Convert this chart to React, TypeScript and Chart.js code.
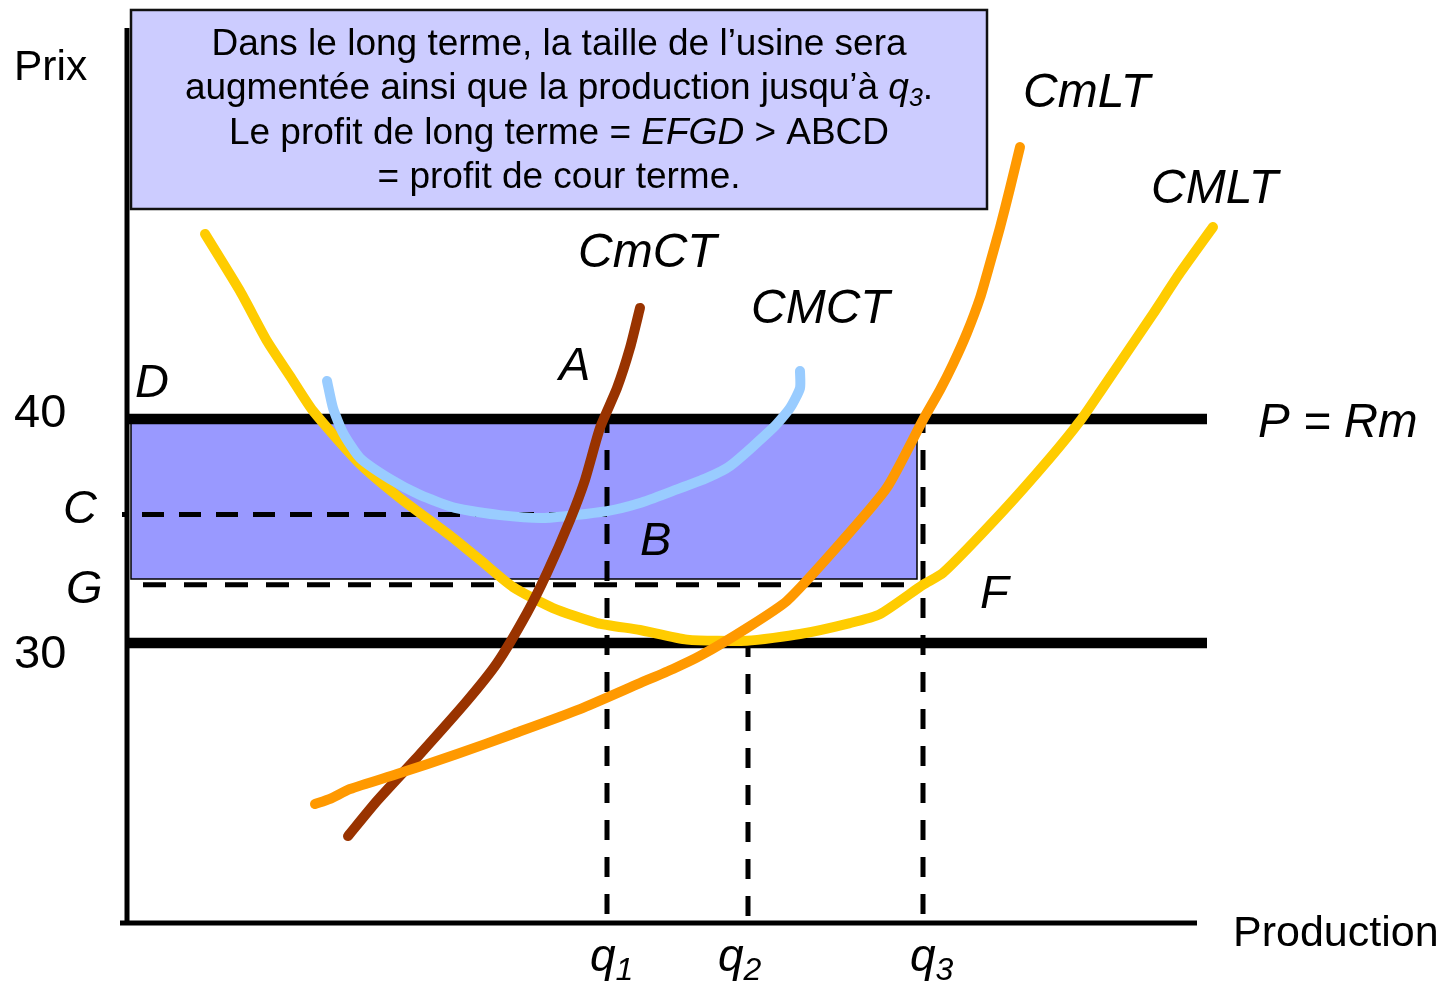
import { useEffect, useRef } from "react";
import { Chart, registerables } from "chart.js";
Chart.register(...registerables);

// ---- Data (x = production units, y = price) ----
const qValues = [48.0, 62.1, 79.6]; // q1, q2, q3
const priceHigh = 40; // P = Rm
const priceLow = 30;
const priceC = 35.74;
const priceG = 32.6;
const rectBottom = 32.86;
const rectLeft = 0.4;
const rectRight = 79.0;

// CMLT (long-run average cost)
const cmltX = [7.8, 11.3, 14.0, 16.3, 18.6, 23.3, 27.3, 32.3, 35.3, 38.6, 42.6, 47.0, 51.3, 56.0, 62.0, 67.3, 72.3, 75.3, 79.6, 81.6, 87.6, 92.3, 95.3, 97.3, 102.6, 105.3, 108.6];
const cmltY = [48.26, 45.71, 43.48, 41.92, 40.36, 37.99, 36.47, 34.8, 33.71, 32.5, 31.56, 30.89, 30.58, 30.15, 30.1, 30.4, 30.89, 31.29, 32.6, 33.13, 35.89, 38.26, 39.91, 41.2, 44.69, 46.52, 48.57];

// CmLT (long-run marginal cost)
const cmLtX = [18.8, 20.3, 22.3, 27.0, 33.0, 38.6, 45.3, 51.3, 54.6, 57.3, 62.0, 66.0, 71.3, 76.0, 79.6, 81.3, 82.6, 84.0, 85.3, 86.3, 87.3, 88.3, 89.3];
const cmLtY = [22.81, 23.04, 23.48, 24.15, 25.04, 25.94, 27.05, 28.21, 28.84, 29.42, 30.67, 31.88, 34.44, 36.94, 39.96, 41.3, 42.45, 43.85, 45.4, 46.95, 48.55, 50.3, 52.14];

// CmCT (short-run marginal cost)
const cmCtX = [22.1, 25.0, 29.3, 34.0, 37.0, 40.0, 42.0, 44.3, 45.8, 47.3, 49.0, 50.3, 51.3];
const cmCtY = [21.38, 22.95, 25.04, 27.41, 29.1, 31.34, 33.13, 35.49, 37.28, 39.6, 41.38, 43.17, 44.96];

// CMCT (short-run average cost)
const cmctX = [20.0, 20.6, 21.6, 23.3, 26.3, 29.3, 32.8, 37.3, 41.8, 48.0, 51.3, 54.6, 58.0, 60.3, 64.6, 66.3, 67.3, 67.3];
const cmctY = [41.7, 40.49, 39.38, 38.26, 37.32, 36.61, 36.03, 35.71, 35.58, 35.89, 36.25, 36.79, 37.37, 37.9, 39.6, 40.49, 41.38, 42.14];

const xMin = 0;
const xMax = 110;
const yMin = 17.5;
const yMax = 57.5;
const axisXEnd = 107;
const axisYTop = 57.46;
const axisXStart = -0.7;
const priceLineEnd = 108;

const zip = (xs: number[], ys: number[]) => xs.map((x, i) => ({ x, y: ys[i] }));

type Run = { t: string; it?: boolean; sub?: boolean };
type Label = { runs: Run[]; u: number; p: number; size: number; subSize?: number; subDy?: number };

const FONT = '"Liberation Sans", Arial, sans-serif';

const labels: Label[] = [
  { runs: [{ t: "Prix" }], u: -11.3, p: 55.13, size: 42.5 },
  { runs: [{ t: "40" }], u: -11.3, p: 39.64, size: 47 },
  { runs: [{ t: "30" }], u: -11.3, p: 28.88, size: 47 },
  { runs: [{ t: "C", it: true }], u: -6.4, p: 35.36, size: 47 },
  { runs: [{ t: "G", it: true }], u: -6.1, p: 31.79, size: 47 },
  { runs: [{ t: "D", it: true }], u: 0.8, p: 40.98, size: 47 },
  { runs: [{ t: "A", it: true }], u: 43.2, p: 41.74, size: 47 },
  { runs: [{ t: "B", it: true }], u: 51.3, p: 33.93, size: 47 },
  { runs: [{ t: "F", it: true }], u: 85.3, p: 31.56, size: 47 },
  { runs: [{ t: "CmCT", it: true }], u: 45.1, p: 46.79, size: 48 },
  { runs: [{ t: "CMCT", it: true }], u: 62.4, p: 44.29, size: 48 },
  { runs: [{ t: "CmLT", it: true }], u: 89.6, p: 53.93, size: 48 },
  { runs: [{ t: "CMLT", it: true }], u: 102.4, p: 49.64, size: 48 },
  { runs: [{ t: "P = ", it: true }, { t: "Rm", it: true }], u: 113.1, p: 39.2, size: 47.5 },
  { runs: [{ t: "Production" }], u: 110.6, p: 16.47, size: 43 },
  { runs: [{ t: "q", it: true }, { t: "1", it: true, sub: true }], u: 46.3, p: 15.36, size: 46, subSize: 32, subDy: 9 },
  { runs: [{ t: "q", it: true }, { t: "2", it: true, sub: true }], u: 59.1, p: 15.36, size: 46, subSize: 32, subDy: 9 },
  { runs: [{ t: "q", it: true }, { t: "3", it: true, sub: true }], u: 78.3, p: 15.36, size: 46, subSize: 32, subDy: 9 },
];

const boxLines: Run[][] = [
  [{ t: "Dans le long terme, la taille de l’usine sera" }],
  [{ t: "augmentée ainsi que la production jusqu’à " }, { t: "q", it: true }, { t: "3", it: true, sub: true }, { t: "." }],
  [{ t: "Le profit de long terme = " }, { t: "EFGD", it: true }, { t: " > ABCD" }],
  [{ t: "= profit de cour terme." }],
];
const boxRange = { u0: 0.4, u1: 86.0, p0: 58.26, p1: 49.375 };

function runFont(r: Run, size: number, subSize: number) {
  return `${r.it ? "italic " : ""}${r.sub ? subSize : size}px ${FONT}`;
}

function drawRuns(ctx: CanvasRenderingContext2D, runs: Run[], x: number, y: number, size: number, subSize: number, subDy: number, center = false) {
  let total = 0;
  for (const r of runs) {
    ctx.font = runFont(r, size, subSize);
    total += ctx.measureText(r.t).width;
  }
  let cx = center ? x - total / 2 : x;
  for (const r of runs) {
    ctx.font = runFont(r, size, subSize);
    ctx.fillText(r.t, cx, r.sub ? y + subDy : y);
    cx += ctx.measureText(r.t).width;
  }
}

const textPlugin = {
  id: "econText",
  afterDatasetsDraw(chart: any) {
    const ctx: CanvasRenderingContext2D = chart.ctx;
    const sx = chart.scales.x;
    const sy = chart.scales.y;
    const X = (u: number) => sx.getPixelForValue(u);
    const Y = (p: number) => sy.getPixelForValue(p);
    ctx.save();
    ctx.textBaseline = "alphabetic";
    ctx.textAlign = "left";
    ctx.fillStyle = "#000";
    for (const l of labels) {
      drawRuns(ctx, l.runs, X(l.u), Y(l.p), l.size, l.subSize ?? l.size, l.subDy ?? 0);
    }
    // text box
    const bx0 = X(boxRange.u0), bx1 = X(boxRange.u1);
    const by0 = Y(boxRange.p0), by1 = Y(boxRange.p1);
    ctx.fillStyle = "#CCCCFF";
    ctx.fillRect(bx0, by0, bx1 - bx0, by1 - by0);
    ctx.strokeStyle = "#111";
    ctx.lineWidth = 2.5;
    ctx.strokeRect(bx0, by0, bx1 - bx0, by1 - by0);
    ctx.fillStyle = "#000";
    const cx = (bx0 + bx1) / 2;
    boxLines.forEach((runs, i) => {
      drawRuns(ctx, runs, cx, by0 + 45 + i * 44.3, 37, 25, 7, true);
    });
    ctx.restore();
  },
};

export default function App() {
  const ref = useRef<HTMLCanvasElement | null>(null);
  useEffect(() => {
    if (!ref.current) return;
    const black = "#000";
    const straight = (data: { x: number; y: number }[], width: number, order: number, dash?: number[], dashOffset = 0) => ({
      data,
      borderColor: black,
      borderWidth: width,
      borderDash: dash ?? [],
      borderDashOffset: dashOffset,
      borderCapStyle: "butt",
      pointRadius: 0,
      tension: 0,
      fill: false,
      clip: false,
      order,
    });
    const curve = (xs: number[], ys: number[], color: string, order: number) => ({
      data: zip(xs, ys),
      borderColor: color,
      borderWidth: 10,
      borderCapStyle: "round",
      borderJoinStyle: "round",
      pointRadius: 0,
      tension: 0.2,
      fill: false,
      clip: false,
      order,
    });
    const chart = new Chart(ref.current, {
      type: "line",
      data: {
        datasets: [
          curve(cmLtX, cmLtY, "#FF9900", 1) as any,
          curve(cmCtX, cmCtY, "#993300", 2) as any,
          curve(cmctX, cmctY, "#99CCFF", 3) as any,
          curve(cmltX, cmltY, "#FFCC00", 4) as any,
          straight([{ x: qValues[0], y: priceHigh }, { x: qValues[0], y: yMin }], 5, 5, [20, 17], 6) as any,
          straight([{ x: qValues[1], y: priceLow }, { x: qValues[1], y: yMin }], 5, 5, [20, 17], 6) as any,
          straight([{ x: qValues[2], y: priceHigh }, { x: qValues[2], y: yMin }], 5, 5, [20, 17], 6) as any,
          straight([{ x: -0.5, y: priceC }, { x: qValues[0], y: priceC }], 5, 6, [22, 15], 17) as any,
          straight([{ x: 1.6, y: priceG }, { x: qValues[2], y: priceG }], 5, 6, [23, 18]) as any,
          straight([{ x: xMin, y: priceHigh }, { x: priceLineEnd, y: priceHigh }], 10.5, 7) as any,
          straight([{ x: xMin, y: priceLow }, { x: priceLineEnd, y: priceLow }], 10.5, 7) as any,
          straight([{ x: rectLeft, y: priceHigh }, { x: rectRight, y: priceHigh }, { x: rectRight, y: rectBottom }, { x: rectLeft, y: rectBottom }, { x: rectLeft, y: priceHigh }], 1.5, 8) as any,
          {
            data: [{ x: rectLeft, y: priceHigh }, { x: rectRight, y: priceHigh }],
            borderWidth: 0,
            borderColor: "rgba(0,0,0,0)",
            backgroundColor: "#9999FF",
            fill: { value: rectBottom },
            pointRadius: 0,
            clip: false,
            order: 9,
          } as any,
          straight([{ x: 0, y: yMin }, { x: 0, y: axisYTop }], 5, 10) as any,
          straight([{ x: axisXStart, y: yMin }, { x: axisXEnd, y: yMin }], 5, 10) as any,
        ],
      },
      options: {
        responsive: false,
        animation: false,
        devicePixelRatio: 1,
        layout: { padding: { left: 127, right: 222, top: 27, bottom: 59 } },
        plugins: { legend: { display: false }, tooltip: { enabled: false }, title: { display: false } },
        scales: {
          x: { type: "linear", min: xMin, max: xMax, display: false },
          y: { type: "linear", min: yMin, max: yMax, display: false },
        },
        events: [],
      },
      plugins: [textPlugin],
    });
    return () => chart.destroy();
  }, []);
  return (
    <div style={{ position: "fixed", left: 0, top: 0, width: 1449, height: 982, background: "#fff" }}>
      <canvas ref={ref} width={1449} height={982} style={{ display: "block" }} />
    </div>
  );
}
